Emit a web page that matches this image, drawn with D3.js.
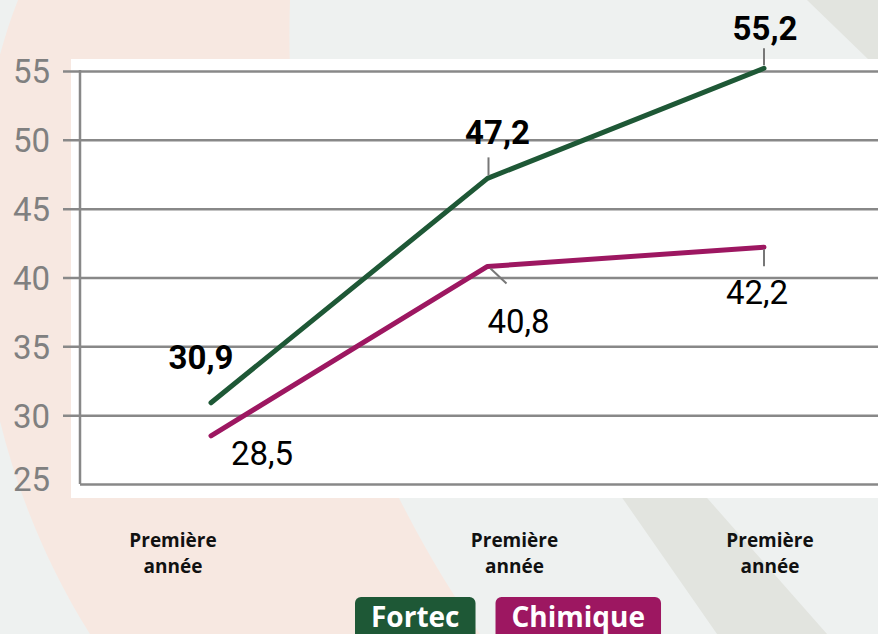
<!DOCTYPE html>
<meta charset="utf-8">
<script src="https://d3js.org/d3.v7.min.js"></script>
<style>
  body { margin: 0; background: #eef1f0; }
  svg { display: block; }
</style>
<div id="my_dataviz"></div>
<script>

// data
var categories = ["Première année", "Première année", "Première année"];
var fortec   = [30.9, 47.2, 55.2];
var chimique = [28.5, 40.8, 42.2];
var yTicks   = [25, 30, 35, 40, 45, 50, 55];
var seriesNames = ["Fortec", "Chimique"];

var W = 878, H = 634;
var green = "#1e5836", purple = "#9d1761", grid = "#888888";

var svg = d3.select("#my_dataviz")
  .append("svg")
    .attr("width", W)
    .attr("height", H);

// background decoration
svg.append("rect").attr("width", W).attr("height", H).attr("fill", "#eef1f0");
svg.append("path")
  .attr("d", "M18,0 C-45,160 -45,420 90,634 L480,634 C400,520 280,300 290,0 Z")
  .attr("fill", "#f7e8e1");
svg.append("path")
  .attr("d", "M550,394 L623,499 L717,634 L827,634 L708,499 L616,394 Z")
  .attr("fill", "#e2e4df");
svg.append("path")
  .attr("d", "M807,0 L878,0 L878,59 L868,59 Z")
  .attr("fill", "#e2e4df");

// white panel
svg.append("rect")
  .attr("x", 71).attr("y", 59)
  .attr("width", W - 71).attr("height", 439)
  .attr("fill", "#ffffff");

// scales
var idx = categories.map(function(d, i) { return i; });
var x = d3.scalePoint().domain(idx).range([211, 764]);
var y = d3.scaleLinear().domain([25, 55]).range([484, 71]);

// y axis + gridlines
var yAxis = svg.append("g")
  .attr("transform", "translate(63,0)")
  .call(d3.axisLeft(y).tickValues(yTicks).tickSize(-(W - 63)).tickPadding(13));
yAxis.select(".domain").remove();
yAxis.selectAll(".tick line")
  .attr("stroke", grid)
  .attr("stroke-width", 2.5)
  .attr("x1", function(d) { return d === 25 ? 17 : 0; });
yAxis.selectAll(".tick text")
  .attr("fill", "#808080")
  .style("font-family", "Roboto, 'DejaVu Sans', sans-serif")
  .style("font-size", "33px")
  .style("font-weight", 400)
  .attr("dy", function(d) { return d === 25 ? "0.2em" : "0.36em"; });

// left axis line
svg.append("line")
  .attr("x1", 80).attr("x2", 80)
  .attr("y1", y(55) - 1).attr("y2", y(25))
  .attr("stroke", grid).attr("stroke-width", 2.5);

// category labels (placed slightly off the points, as in the original)
var catShift = [-38, 27, 6];
var cat = svg.append("g")
  .style("font-family", "'Open Sans', sans-serif")
  .style("font-weight", 700)
  .style("font-size", "19px")
  .attr("text-anchor", "middle")
  .attr("fill", "#111");
categories.forEach(function(c, i) {
  var words = c.split(" ");
  var t = cat.append("text")
    .attr("x", x(i) + catShift[i])
    .attr("y", 547);
  t.append("tspan").attr("x", x(i) + catShift[i]).text(words[0]);
  t.append("tspan").attr("x", x(i) + catShift[i]).attr("dy", 26).text(words[1]);
});

// lines
var line = d3.line()
  .x(function(d, i) { return x(i); })
  .y(function(d) { return y(d); });

[[fortec, green], [chimique, purple]].forEach(function(s) {
  svg.append("path")
    .datum(s[0])
    .attr("d", line)
    .attr("fill", "none")
    .attr("stroke", s[1])
    .attr("stroke-width", 5)
    .attr("stroke-linejoin", "round")
    .attr("stroke-linecap", "round");
});

// value labels with small leader lines
var fmt = function(v) { return d3.format(".1f")(v).replace(".", ","); };
var fortecLab = [
  {dx: -10, dy: -34, lead: null},
  {dx: 10, dy: -34, lead: [1, -21, 1, -3]},
  {dx: 1,  dy: -28, lead: [0, -20, 0, -3]}
];
var chimLab = [
  {dx: 51, dy: 29, lead: null},
  {dx: 31, dy: 67, lead: [3, 2, 19, 17]},
  {dx: -7, dy: 57, lead: [0, 2, 0, 19]}
];

function labels(vals, conf, weight) {
  vals.forEach(function(v, i) {
    var c = conf[i], px = x(i), py = y(v);
    if (c.lead) {
      svg.append("line")
        .attr("x1", px + c.lead[0]).attr("y1", py + c.lead[1])
        .attr("x2", px + c.lead[2]).attr("y2", py + c.lead[3])
        .attr("stroke", "#777").attr("stroke-width", 2);
    }
    svg.append("text")
      .attr("x", px + c.dx)
      .attr("y", py + c.dy)
      .attr("text-anchor", "middle")
      .style("font-family", "Roboto, 'DejaVu Sans', sans-serif")
      .style("font-size", "33px")
      .style("font-weight", weight)
      .attr("fill", "#000")
      .text(fmt(v));
  });
}
labels(fortec, fortecLab, 700);
labels(chimique, chimLab, 400);

// legend
var legend = svg.append("g");
var lx = 355, colors = [green, purple], pad = 16;
seriesNames.forEach(function(n, i) {
  var g = legend.append("g");
  var t = g.append("text")
    .attr("x", lx + pad)
    .attr("y", 627)
    .style("font-family", "'Open Sans', sans-serif")
    .style("font-weight", 700)
    .style("font-size", "28px")
    .attr("fill", "#fff")
    .text(n);
  var w = t.node().getComputedTextLength() + 2 * pad;
  g.insert("rect", "text")
    .attr("x", lx).attr("y", 597)
    .attr("width", w).attr("height", 50)
    .attr("rx", 6)
    .attr("fill", colors[i]);
  lx += w + 20;
});

</script>
